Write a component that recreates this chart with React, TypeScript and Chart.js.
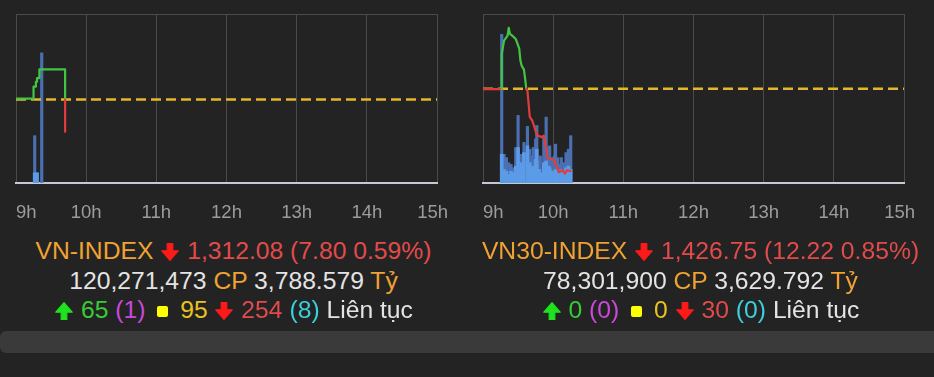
import React, { useEffect, useRef } from "react";
import { Chart, registerables } from "chart.js";

Chart.register(...registerables);

// ---------- axis labels ----------
const hourLabels = ["9h", "10h", "11h", "12h", "13h", "14h", "15h"];

// ---------- VN-INDEX ----------
const vnRef = 1319.88;
const vnMin = 1299.7;
const vnMax = 1340.6;
const vnTimes = ["9:00", "9:15", "9:15", "9:17", "9:17", "9:18", "9:18", "9:20", "9:20", "9:42", "9:42", "9:42"];
const vnPrices = [1320.1, 1320.1, 1323.0, 1323.0, 1324.2, 1324.2, 1325.1, 1325.1, 1327.2, 1327.2, 1319.88, 1312.08];
const vnVolTimes = ["9:16", "9:18", "9:22"];
const vnVolTotal = [28, 6, 77];
const vnVolPart = [6, 6, 0];

// ---------- VN30-INDEX ----------
const vn30Ref = 1438.97;
const vn30Min = 1425.0;
const vn30Max = 1450.05;
const vn30Times = [
  "9:00", "9:16", "9:16", "9:18", "9:21", "9:22", "9:23", "9:25", "9:28", "9:31", "9:32",
  "9:33", "9:35", "9:36", "9:37", "9:38", "9:40", "9:42", "9:44", "9:46", "9:50", "9:52",
  "9:54", "9:55", "9:57", "10:01", "10:03", "10:05", "10:08", "10:10", "10:12", "10:15",
];
const vn30Prices = [
  1438.9, 1438.9, 1444.1, 1446.1, 1446.85, 1448.0, 1447.1, 1446.85, 1446.35, 1444.9, 1443.15,
  1442.4, 1441.8, 1440.5, 1438.97, 1438.7, 1434.8, 1434.3, 1433.3, 1432.1, 1431.8, 1432.0,
  1430.3, 1428.8, 1428.6, 1428.4, 1427.4, 1426.6, 1426.9, 1426.4, 1426.9, 1426.75,
];
const vn30VolTimes = [
  "9:16", "9:18", "9:20", "9:22", "9:24", "9:26", "9:28", "9:30", "9:31", "9:33", "9:35",
  "9:38", "9:40", "9:41", "9:43", "9:45", "9:46", "9:48", "9:49", "9:51", "9:52", "9:54",
  "9:56", "9:57", "9:59", "10:01", "10:02", "10:04", "10:05", "10:07", "10:09", "10:11",
  "10:13", "10:15",
];
const vn30VolTotal = [
  88, 17, 15, 12, 11, 9, 21, 40, 13, 17, 24,
  33.5, 20, 16, 21, 26, 34, 13, 16, 8, 27, 39,
  21, 22, 15, 16, 23, 15, 11, 15, 12, 18,
  20, 28,
];
const vn30VolPart = [
  17, 8, 7, 5, 7, 6, 10, 21, 9, 12, 18,
  22, 12, 9, 10, 14, 20, 8, 6, 4, 12, 13,
  10, 9, 7, 6, 8, 6, 6, 8, 6, 9,
  10, 8,
];

// ---------- colours ----------
const UP = "#42c642";
const DOWN = "#e23c3c";
const REF_LINE = "#e3b82c";
const VOL_DARK = "#4a70b2";
const VOL_LIGHT = "#5b9be8";
const GRID = "#4a4a4a";
const AXIS = "#c5c9d2";

const FONT = '"Liberation Sans", Arial, Helvetica, sans-serif';

const toMin = (t: string) => {
  const [h, m] = t.split(":").map(Number);
  return (h - 9) * 60 + m;
};

const hourLabelPlugin = {
  id: "hourLabels",
  afterDraw(chart: any) {
    const { ctx, chartArea, scales } = chart;
    const x = scales.x;
    ctx.save();
    ctx.font = `18.5px ${FONT}`;
    ctx.fillStyle = "#9c9c9c";
    ctx.textBaseline = "middle";
    x.ticks.forEach((t: any, i: number) => {
      const label = hourLabels[i];
      if (!label) return;
      const w = ctx.measureText(label).width;
      const px = x.getPixelForValue(t.value);
      let left = px - w / 2;
      left = Math.max(chartArea.left, Math.min(left, chartArea.right + 11 - w));
      ctx.fillText(label, left, chartArea.bottom + 30);
    });
    ctx.restore();
  },
};

type ChartProps = {
  times: string[];
  prices: number[];
  refValue: number;
  volTimes: string[];
  volTotal: number[];
  volPart: number[];
  yMin: number;
  yMax: number;
};

function IndexChart(props: ChartProps) {
  const canvasRef = useRef<HTMLCanvasElement>(null);
  useEffect(() => {
    const { times, prices, refValue, volTimes, volTotal, volPart, yMin, yMax } = props;
    const chart = new Chart(canvasRef.current as HTMLCanvasElement, {
      type: "line",
      data: {
        datasets: [
          {
            type: "line",
            data: times.map((t, i) => ({ x: toMin(t), y: prices[i] })),
            yAxisID: "y",
            borderColor: UP,
            borderWidth: 2.2,
            borderJoinStyle: "round",
            borderCapStyle: "round",
            pointRadius: 0,
            tension: 0,
            segment: {
              borderColor: (c: any) => {
                const v = c.p1.parsed.y === refValue ? c.p0.parsed.y : c.p1.parsed.y;
                return v < refValue ? DOWN : UP;
              },
            },
          } as any,
          {
            type: "line",
            data: [
              { x: 0, y: refValue },
              { x: 360, y: refValue },
            ],
            yAxisID: "y",
            borderColor: REF_LINE,
            borderWidth: 2.5,
            borderDash: [10, 5],
            pointRadius: 0,
          },
          {
            type: "bar",
            data: volTimes.map((t, i) => ({ x: toMin(t), y: volPart[i] })),
            yAxisID: "yv",
            backgroundColor: VOL_LIGHT,
            barThickness: 3,
            grouped: false,
          } as any,
          {
            type: "bar",
            data: volTimes.map((t, i) => ({ x: toMin(t), y: volTotal[i] })),
            yAxisID: "yv",
            backgroundColor: VOL_DARK,
            barThickness: 2.5,
            grouped: false,
          } as any,
        ],
      },
      options: {
        animation: false,
        responsive: false,
        layout: { padding: { left: 16, right: 30, top: 14, bottom: 53 } },
        plugins: { legend: { display: false }, tooltip: { enabled: false } },
        scales: {
          x: {
            type: "linear",
            min: 0,
            max: 360,
            offset: false,
            ticks: { stepSize: 60, display: false },
            grid: { color: GRID, lineWidth: 1, drawTicks: false, offset: false },
            border: { display: true, color: AXIS, width: 2 },
          },
          y: {
            type: "linear",
            min: yMin,
            max: yMax,
            ticks: { display: false },
            grid: {
              drawTicks: false,
              color: (c: any) => (c.tick && c.tick.value === yMax ? GRID : "rgba(0,0,0,0)"),
            },
            border: { display: false },
            afterBuildTicks: (s: any) => {
              s.ticks = [{ value: yMin }, { value: yMax }];
            },
          },
          yv: {
            type: "linear",
            min: 0,
            max: 100,
            display: false,
          },
        },
      } as any,
      plugins: [hourLabelPlugin],
    });
    return () => chart.destroy();
  }, []);
  return <canvas ref={canvasRef} width={467} height={236} style={{ display: "block" }} />;
}

function ArrowDown({ color }: { color: string }) {
  return (
    <svg width="20" height="20" viewBox="0 0 20 20" style={{ verticalAlign: "-3px" }}>
      <path
        d="M7.2 1.5h5.6v7.3h5.4L10 18.3 1.8 8.8h5.4z"
        fill={color}
        strokeLinejoin="round"
        stroke={color}
        strokeWidth="1.2"
      />
    </svg>
  );
}

function ArrowUp({ color }: { color: string }) {
  return (
    <svg width="20" height="20" viewBox="0 0 20 20" style={{ verticalAlign: "-3px" }}>
      <path
        d="M7.2 18.5h5.6v-7.3h5.4L10 1.7 1.8 11.2h5.4z"
        fill={color}
        strokeLinejoin="round"
        stroke={color}
        strokeWidth="1.2"
      />
    </svg>
  );
}

function Square() {
  return (
    <span
      style={{
        display: "inline-block",
        width: 11,
        height: 11,
        margin: "0 5px",
        background: "#ffff00",
        borderRadius: 2,
        verticalAlign: "1px",
      }}
    />
  );
}

const C = {
  orange: "#f0a232",
  red: "#e24b4b",
  white: "#e4e4e4",
  green: "#36cc36",
  arrowUp: "#1fe21f",
  arrowDown: "#ff1a1a",
  purple: "#cc48dd",
  yellow: "#e8c420",
  cyan: "#3cd0dc",
};

type InfoProps = {
  name: string;
  price: string;
  change: string;
  volume: string;
  value: string;
  up: string;
  ceil: string;
  flat: string;
  down: string;
  floor: string;
};

function Info(p: InfoProps) {
  return (
    <div
      style={{
        textAlign: "center",
        fontFamily: FONT,
        fontSize: 24.7,
        lineHeight: "29.5px",
        whiteSpace: "nowrap",
      }}
    >
      <div>
        <span style={{ color: C.orange }}>{p.name}</span> <ArrowDown color={C.arrowDown} />{" "}
        <span style={{ color: C.red }}>
          {p.price} ({p.change})
        </span>
      </div>
      <div>
        <span style={{ color: C.white }}>{p.volume}</span> <span style={{ color: C.orange }}>CP</span>{" "}
        <span style={{ color: C.white }}>{p.value}</span> <span style={{ color: C.orange }}>Tỷ</span>
      </div>
      <div>
        <ArrowUp color={C.arrowUp} /> <span style={{ color: C.green }}>{p.up}</span>{" "}
        <span style={{ color: C.purple }}>({p.ceil})</span> <Square />{" "}
        <span style={{ color: C.yellow }}>{p.flat}</span> <ArrowDown color={C.arrowDown} />{" "}
        <span style={{ color: C.red }}>{p.down}</span> <span style={{ color: C.cyan }}>({p.floor})</span>{" "}
        <span style={{ color: C.white }}>Liên tục</span>
      </div>
    </div>
  );
}

export default function App() {
  useEffect(() => {
    document.body.style.margin = "0";
    document.body.style.background = "#232323";
  }, []);
  return (
    <div style={{ width: 934, height: 377, background: "#232323", overflow: "hidden" }}>
      <div style={{ display: "flex" }}>
        <div style={{ width: 467 }}>
          <IndexChart
            times={vnTimes}
            prices={vnPrices}
            refValue={vnRef}
            volTimes={vnVolTimes}
            volTotal={vnVolTotal}
            volPart={vnVolPart}
            yMin={vnMin}
            yMax={vnMax}
          />
          <Info
            name="VN-INDEX"
            price="1,312.08"
            change="7.80 0.59%"
            volume="120,271,473"
            value="3,788.579"
            up="65"
            ceil="1"
            flat="95"
            down="254"
            floor="8"
          />
        </div>
        <div style={{ width: 467 }}>
          <IndexChart
            times={vn30Times}
            prices={vn30Prices}
            refValue={vn30Ref}
            volTimes={vn30VolTimes}
            volTotal={vn30VolTotal}
            volPart={vn30VolPart}
            yMin={vn30Min}
            yMax={vn30Max}
          />
          <Info
            name="VN30-INDEX"
            price="1,426.75"
            change="12.22 0.85%"
            volume="78,301,900"
            value="3,629.792"
            up="0"
            ceil="0"
            flat="0"
            down="30"
            floor="0"
          />
        </div>
      </div>
      <div
        style={{
          marginTop: 6.5,
          height: 22,
          background: "#3a3a3a",
          borderRadius: "6px 0 0 6px",
        }}
      />
    </div>
  );
}
